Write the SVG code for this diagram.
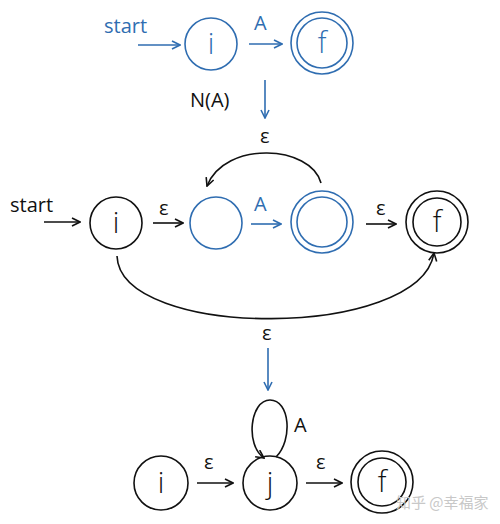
<svg xmlns="http://www.w3.org/2000/svg" width="500" height="524" viewBox="0 0 500 524">
<defs>
<marker id="ak" viewBox="0 0 10 10" refX="9" refY="5" markerWidth="10" markerHeight="10" markerUnits="userSpaceOnUse" orient="auto"><path d="M1,1 L9,5 L1,9" fill="none" stroke="#111" stroke-width="1.6"/></marker>
<marker id="ab" viewBox="0 0 10 10" refX="9" refY="5" markerWidth="10" markerHeight="10" markerUnits="userSpaceOnUse" orient="auto"><path d="M1,1 L9,5 L1,9" fill="none" stroke="#2f6db1" stroke-width="1.6"/></marker>
</defs>
<style>
.k{fill:none;stroke:#111;stroke-width:1.6}
.b{fill:none;stroke:#2f6db1;stroke-width:1.6}
.ek{fill:none;stroke:#111;stroke-width:1.6;marker-end:url(#ak)}
.eb{fill:none;stroke:#2f6db1;stroke-width:1.6;marker-end:url(#ab)}
text{font-family:"Open Sans","Noto Sans",sans-serif}
.lk{fill:#111;font-size:20px}
.lb{fill:#2f6db1;font-size:20px}
.nk{fill:#111;font-size:29px;text-anchor:middle;font-weight:300}
.nb{fill:#2f6db1;font-size:29px;text-anchor:middle;font-weight:300}
.wm{fill:#c8c8c8;font-size:15px;font-family:"Noto Sans CJK SC",sans-serif}
</style>
<g id="n1i"><circle class="b" cx="211" cy="44" r="26"/><text class="nb" x="211" y="54">i</text></g>
<g id="n1f"><circle class="b" cx="322" cy="43" r="31"/><circle class="b" cx="322" cy="43" r="25"/><text class="nb" x="322" y="53">f</text></g>
<g id="n2i"><circle class="k" cx="116" cy="223" r="26"/><text class="nk" x="116" y="233">i</text></g>
<g id="n2a"><circle class="b" cx="216" cy="223" r="26"/></g>
<g id="n2b"><circle class="b" cx="322" cy="222" r="31"/><circle class="b" cx="322" cy="222" r="25"/></g>
<g id="n2f"><circle class="k" cx="437" cy="222" r="31"/><circle class="k" cx="437" cy="222" r="24"/><text class="nk" x="437" y="232">f</text></g>
<g id="n3i"><circle class="k" cx="161" cy="483" r="27"/><text class="nk" x="161" y="493">i</text></g>
<g id="n3j"><circle class="k" cx="270" cy="483" r="27"/><text class="nk" x="270" y="493">j</text></g>
<g id="n3f"><circle class="k" cx="382" cy="482" r="31"/><circle class="k" cx="382" cy="482" r="24"/><text class="nk" x="382" y="492">f</text></g>
<g id="connectors">
<path class="eb" d="M138,45 H180"/>
<path class="eb" d="M249,44 H282"/>
<path class="eb" d="M265,80 V118"/>
<path class="ek" d="M44,222 H80"/>
<path class="ek" d="M153,223 H183"/>
<path class="eb" d="M251,224 H281"/>
<path class="ek" d="M366,224 H396"/>
<path class="ek" d="M321,183 C311,145 225,140 207,186"/>
<path class="ek" d="M117,256 C120,340 420,340 434,253"/>
<path class="eb" d="M268,348 V390"/>
<path class="ek" d="M197,483 H233"/>
<path class="ek" d="M306,483 H342"/>
<path class="ek" d="M276,457 C293,440 290,400 270,400 C250,400 245,445 264,458"/>
</g>
<g id="labels">
<text class="lb" x="104" y="33">start</text>
<text class="lb" x="254" y="30">A</text>
<text class="lk" x="190" y="107">N(A)</text>
<text class="lk" x="260" y="143">ε</text>
<text class="lk" x="10" y="212">start</text>
<text class="lk" x="159" y="215">ε</text>
<text class="lb" x="254" y="211">A</text>
<text class="lk" x="376" y="215">ε</text>
<text class="lk" x="262" y="340">ε</text>
<text class="lk" x="294" y="432">A</text>
<text class="lk" x="204" y="469">ε</text>
<text class="lk" x="316" y="469">ε</text>
<text class="wm" x="396" y="508">知乎 @幸福家</text>
</g>
</svg>
